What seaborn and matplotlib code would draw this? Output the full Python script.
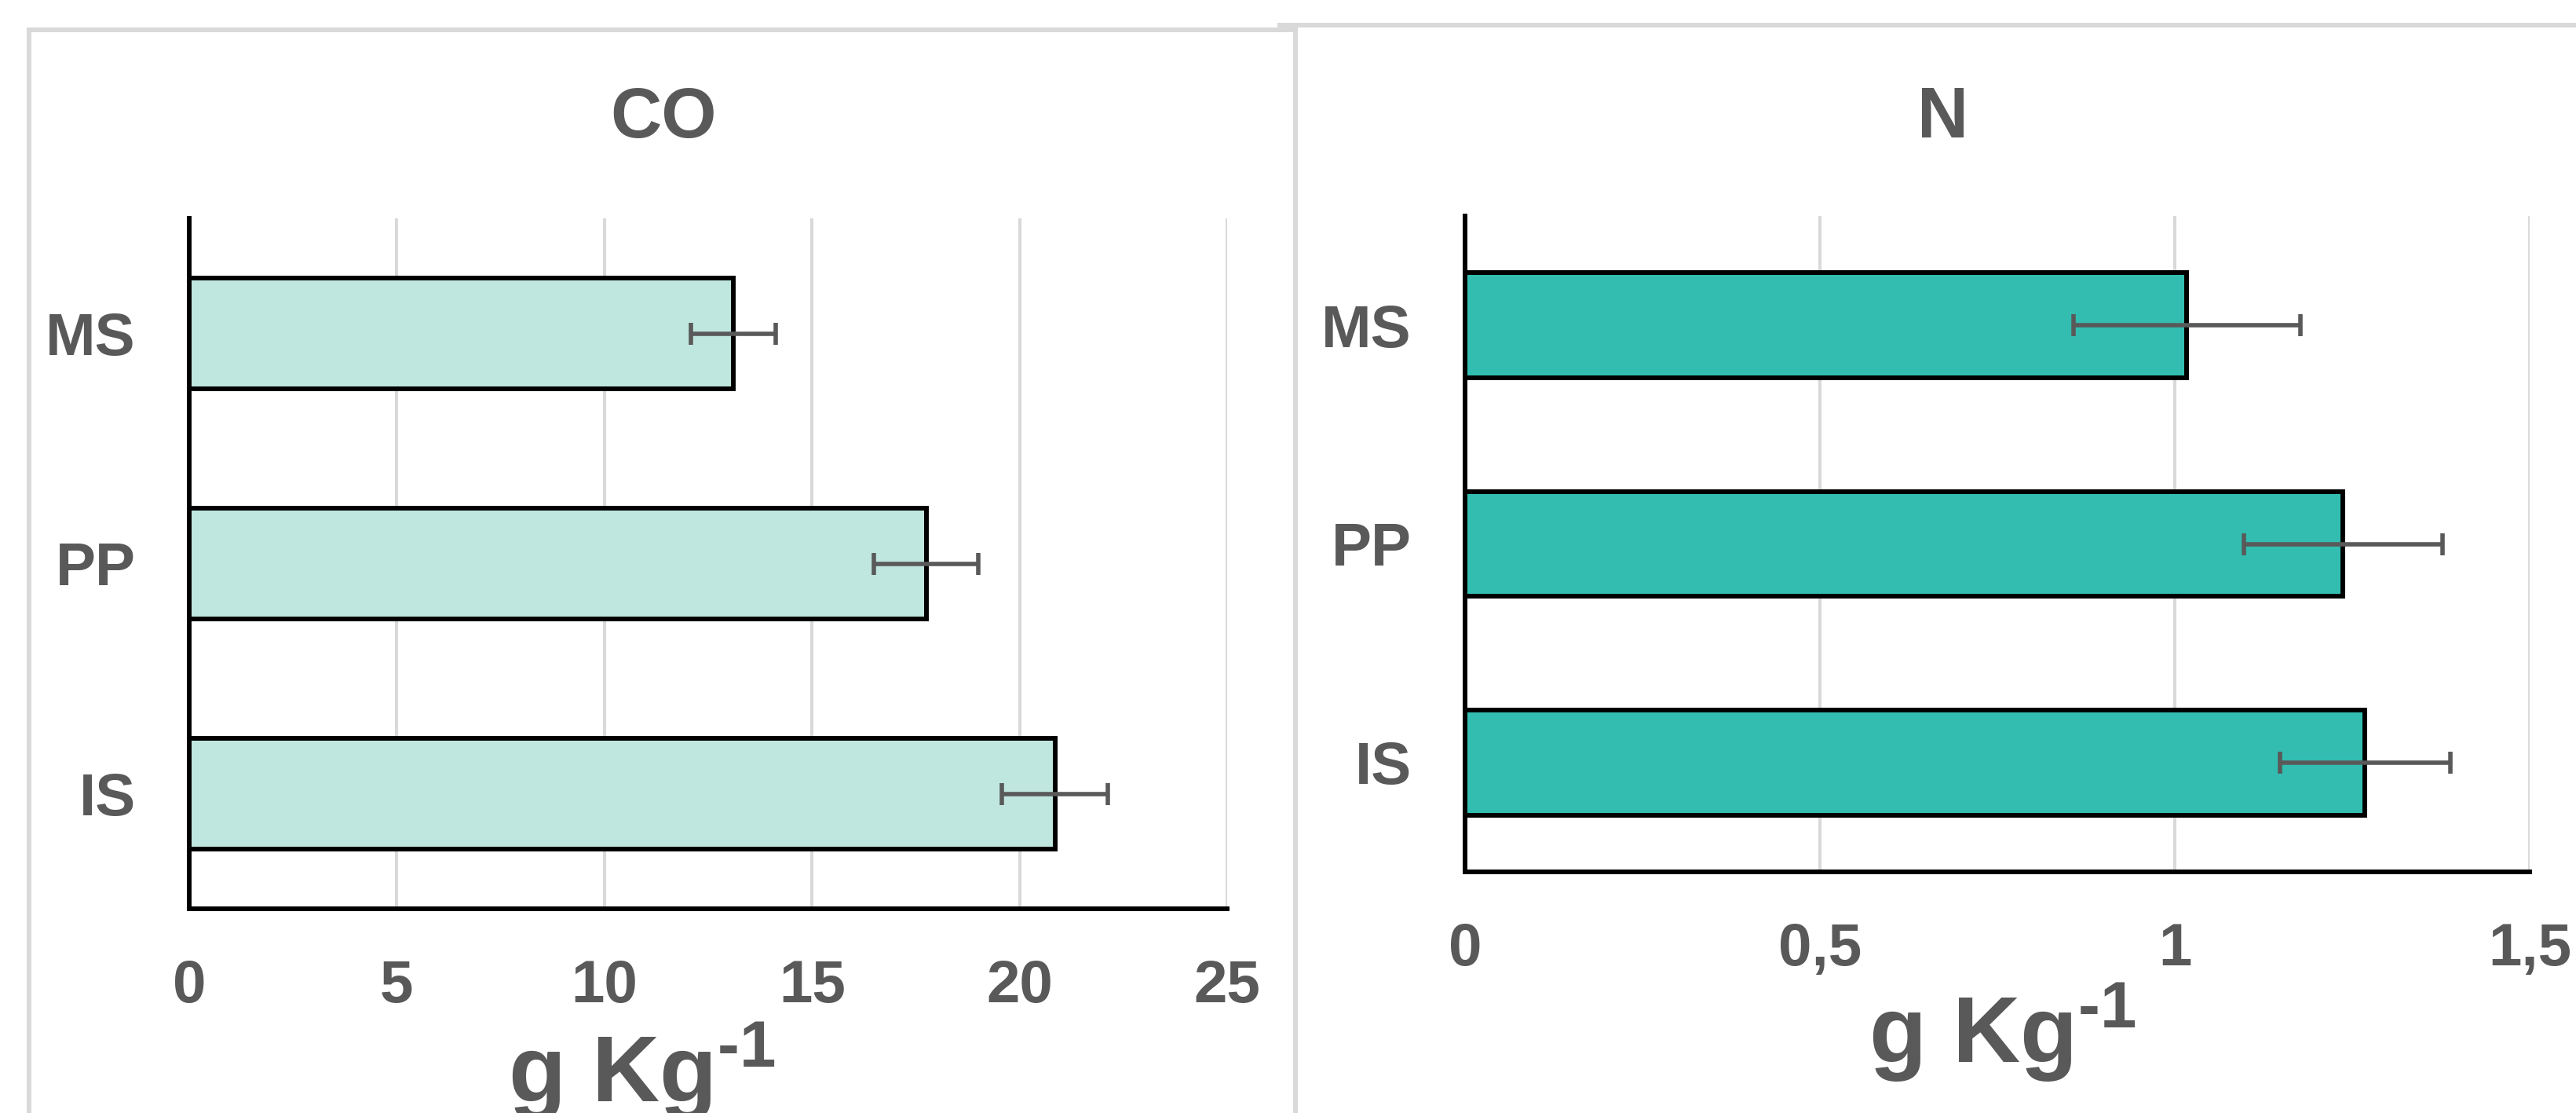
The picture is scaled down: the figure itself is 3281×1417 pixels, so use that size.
import numpy as np
import pandas as pd
import matplotlib
matplotlib.use("Agg")
import matplotlib.pyplot as plt
from matplotlib.patches import Rectangle
import seaborn as sns

# ---- data ----
categories = ["MS", "PP", "IS"]
co_values = [13.1, 17.75, 20.85]
co_errors = [1.02, 1.26, 1.27]
n_values = [1.017, 1.237, 1.268]
n_errors = [0.16, 0.14, 0.12]
co_ticks = [0, 5, 10, 15, 20, 25]
co_ticklabels = ["0", "5", "10", "15", "20", "25"]
n_ticks = [0, 0.5, 1, 1.5]
n_ticklabels = ["0", "0,5", "1", "1,5"]
titles = ["CO", "N"]
xlabel_text = r"g Kg$^{\text{-1}}$"

# ---- style ----
sns.set_style("white")
plt.rcParams["font.family"] = ["Liberation Sans", "DejaVu Sans"]
plt.rcParams["font.weight"] = "bold"
plt.rcParams["mathtext.fontset"] = "custom"
plt.rcParams["mathtext.rm"] = "Liberation Sans:bold"
plt.rcParams["mathtext.bf"] = "Liberation Sans:bold"
plt.rcParams["mathtext.it"] = "Liberation Sans:bold"
plt.rcParams["mathtext.default"] = "rm"

TXT = "#595959"
GRID = "#d9d9d9"
W, H = 3281, 1417
fig = plt.figure(figsize=(W / 100, H / 100), dpi=100)
fig.patch.set_facecolor("white")

# panel frames (right one behind, left one on top)
fig.add_artist(Rectangle((1630 / W, -0.2), 0.6, 1.2 - 32 / H, transform=fig.transFigure,
                         facecolor="white", edgecolor=GRID, lw=4.3, zorder=-2))
fig.add_artist(Rectangle((37 / W, -0.2), (1650 - 37) / W, 1.2 - 38 / H, transform=fig.transFigure,
                         facecolor="white", edgecolor=GRID, lw=4.3, zorder=-1))


def px_rect(x0, x1, ytop, ybot):
    return [x0 / W, 1 - ybot / H, (x1 - x0) / W, (ybot - ytop) / H]


ax1 = fig.add_axes(px_rect(241, 1563, 278, 1157))
ax2 = fig.add_axes(px_rect(1866, 3222, 275, 1110))

specs = [
    (ax1, co_values, co_errors, "#bfe7df", co_ticks, co_ticklabels, (0, 25), 0.436, -0.280, 845),
    (ax2, n_values, n_errors, "#32bdb0", n_ticks, n_ticklabels, (0, 1.5), 0.505, -0.291, 2475),
]

for i, (ax, vals, errs, col, ticks, tlabels, xlim, lx, ly, tx) in enumerate(specs):
    ax.set_facecolor("none")
    df = pd.DataFrame({"cat": categories, "val": vals})
    sns.barplot(data=df, x="val", y="cat", orient="h", color=col, saturation=1,
                edgecolor="black", linewidth=4.3, width=0.48, ax=ax, zorder=2)
    pos = np.arange(len(categories))
    ax.errorbar(vals, pos, xerr=errs, fmt="none", ecolor=TXT, elinewidth=4.0,
                capsize=10, capthick=4.0, zorder=4)
    ax.set_xlim(*xlim)
    ax.set_ylim(len(categories) - 0.5, -0.5)
    ax.set_xticks(ticks)
    ax.set_xticklabels(tlabels)
    ax.grid(axis="x", color=GRID, lw=2.9)
    ax.grid(axis="y", visible=False)
    ax.set_axisbelow(True)
    for s in ["top", "right"]:
        ax.spines[s].set_visible(False)
    for s in ["left", "bottom"]:
        ax.spines[s].set_color("black")
        ax.spines[s].set_linewidth(4.3)
        ax.spines[s].set_zorder(5)
    ax.tick_params(axis="x", length=0, pad=46, labelsize=55, labelcolor=TXT)
    ax.tick_params(axis="y", length=0, pad=49, labelsize=55, labelcolor=TXT)
    for t in ax.get_xticklabels() + ax.get_yticklabels():
        t.set_fontweight("bold")
    ax.set_ylabel("")
    ax.set_xlabel(xlabel_text, fontsize=86, color=TXT, fontweight="bold", va="baseline")
    ax.xaxis.set_label_coords(lx, ly)
    fig.text(tx / W, 1 - 175 / H, titles[i], fontsize=65, color=TXT, fontweight="bold",
             ha="center", va="baseline")

fig.savefig("out.png", dpi=100, facecolor="white")
